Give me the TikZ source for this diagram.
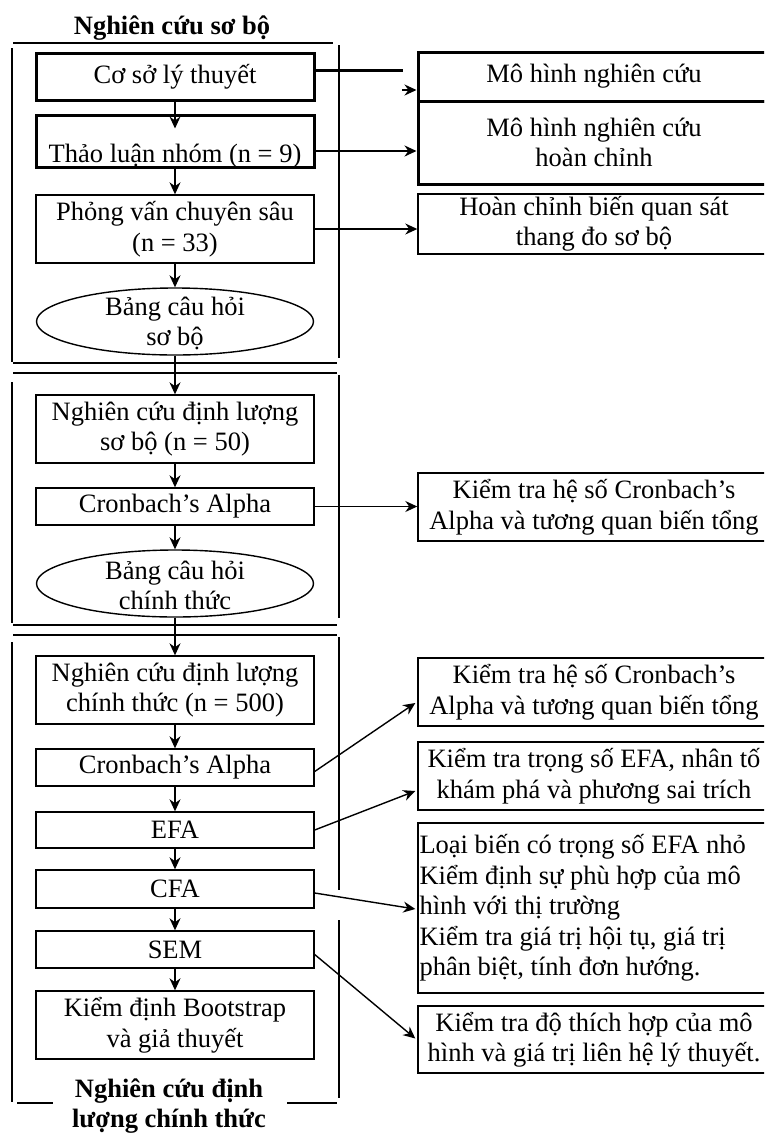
\documentclass[tikz,border=0pt]{standalone}
\usepackage{fontspec}
\setmainfont{Liberation Serif}
\usetikzlibrary{arrows.meta,shapes.geometric}
\tikzset{
  box/.style={draw, line width=1.4pt, minimum width=278pt, inner sep=0pt, align=center},
  thickbox/.style={box, line width=3pt},
  oval/.style={draw, ellipse, line width=1.4pt, minimum width=277pt, minimum height=67pt, inner sep=0pt},
  rbox/.style={draw, line width=1.4pt, minimum width=352pt, inner sep=0pt, align=center},
  arr/.style={-{Stealth[length=12pt,width=11pt]}, line width=1.4pt},
  frameline/.style={line width=1.4pt},
  ttl/.style={align=center, inner sep=0pt},
  plain/.style={align=center, inner sep=0pt}
}
\begin{document}
\begin{tikzpicture}[x=1pt,y=-1pt,font=\fontsize{26.5}{30.5}\selectfont]
\useasboundingbox (0,0) rectangle (764,1136);
\clip (0,0) rectangle (764,1136);

% titles
\node[ttl] (t1) at (172,28) {\textbf{Nghiên cứu sơ bộ}};
\node[ttl] (t3) at (169,1106) {\textbf{Nghiên cứu định}\\\textbf{lượng chính thức}};

% frames section 1
\draw[frameline] (13,43) -- (333,43);
\draw[frameline] (12,48) -- (12,362);
\draw[frameline] (339,45) -- (339,358);
\draw[frameline] (13,363) -- (337,363);
\draw[frameline] (13,373) -- (337,373);
% section 2
\draw[frameline] (12,382) -- (12,623);
\draw[frameline] (339,375) -- (339,618);
\draw[frameline] (13,625) -- (337,625);
\draw[frameline] (13,635) -- (337,635);
% section 3
\draw[frameline] (12,642) -- (12,1102);
\draw[frameline] (339,637) -- (339,890);
\draw[frameline] (339,920) -- (339,1098);
\draw[frameline] (17,1103) -- (53,1103);
\draw[frameline] (287,1103) -- (337,1103);

% left column
\node[thickbox, minimum height=47pt] (c1) at (175,76.5) {Cơ sở lý thuyết};
\node[thickbox, minimum height=52pt] (c2) at (175,141) {\raisebox{-21pt}[0pt][0pt]{Thảo luận nhóm (n = 9)}};
\node[box, minimum height=68pt] (c3) at (175,229) {Phỏng vấn chuyên sâu\\(n = 33)};
\node[oval] (e1) at (175,321.5) {};
\node[plain] (e1t) at ([yshift=-2pt]e1.center) {Bảng câu hỏi\\sơ bộ};

\node[box, minimum height=68pt] (d1) at (175,429) {Nghiên cứu định lượng\\sơ bộ (n = 50)};
\node[box, minimum height=37pt] (d2) at (175,506.5) {Cronbach’s Alpha};
\node[oval] (e2) at (175,583.5) {};
\node[plain] (e2t) at ([yshift=-2pt]e2.center) {Bảng câu hỏi\\chính thức};

\node[box, minimum height=68pt] (f1) at (175,690) {Nghiên cứu định lượng\\chính thức (n = 500)};
\node[box, minimum height=37pt] (f2) at (175,767.5) {Cronbach’s Alpha};
\node[box, minimum height=36pt] (f3) at (175,830) {EFA};
\node[box, minimum height=38pt] (f4) at (175,889) {CFA};
\node[box, minimum height=37pt] (f5) at (175,949.5) {SEM};
\node[box, minimum height=68pt] (f6) at (175,1025) {Kiểm định Bootstrap\\và giả thuyết};

% right column
\node[rbox, line width=3pt, minimum height=49pt] (m1) at (594,76.5) {Mô hình nghiên cứu};
\node[rbox, line width=3pt, minimum height=83pt] (m2) at (594,142.5) {Mô hình nghiên cứu\\hoàn chỉnh};
\node[rbox, minimum height=60pt] (m3) at (594,224) {Hoàn chỉnh biến quan sát\\thang đo sơ bộ};
\node[rbox, minimum height=68pt] (r2) at (594,507) {Kiểm tra hệ số Cronbach’s\\Alpha và tương quan biến tổng};
\node[rbox, minimum height=68pt] (rA) at (594,692) {Kiểm tra hệ số Cronbach’s\\Alpha và tương quan biến tổng};
\node[rbox, minimum height=68pt] (rB) at (594,776) {Kiểm tra trọng số EFA, nhân tố\\khám phá và phương sai trích};
\node[rbox, minimum height=170pt] (rC) at (594,908) {};
\node[anchor=west, align=left, inner sep=0pt] (rCt) at ([xshift=2pt]rC.west) {Loại biến có trọng số EFA nhỏ\\Kiểm định sự phù hợp của mô\\hình với thị trường\\Kiểm tra giá trị hội tụ, giá trị\\phân biệt, tính đơn hướng.};
\node[rbox, minimum height=67pt] (rD) at (594,1039.5) {Kiểm tra độ thích hợp của mô\\hình và giá trị liên hệ lý thuyết.};

% vertical arrows
\draw[arr] (c1.south) -- ([yshift=-15pt]c2.north);
\draw[arr] (c2.south) -- (c3.north);
\draw[arr] (c3.south) -- (e1.north);
\draw[arr] (e1.south) -- (d1.north);
\draw[arr] (d1.south) -- (d2.north);
\draw[arr] (d2.south) -- (e2.north);
\draw[arr] (e2.south) -- (f1.north);
\draw[arr] (f1.south) -- (f2.north);
\draw[arr] (f2.south) -- (f3.north);
\draw[arr] (f3.south) -- (f4.north);
\draw[arr] (f4.south) -- (f5.north);
\draw[arr] (f5.south) -- (f6.north);

% horizontal connectors
\coordinate (k1) at (403,70);
\coordinate (k2) at (402,90);
\coordinate (k3) at (0,151);
\draw[line width=3pt] (c1.east |- k1) -- (k1);
\draw[arr] (k2) -- (m1.west |- k2);
\draw[arr, line width=2.6pt] (c2.east |- k3) -- (m2.west |- k3);
\draw[arr] (c3.east) -- (m3.west |- c3.east);
\draw[arr] (d2.east) -- (r2.west |- d2.east);
\draw[arr] ([yshift=-4pt]f2.east) -- ([shift={(-2,11)}]rA.west);
\draw[arr] (f3.east) -- ([shift={(-2,15)}]rB.west);
\draw[arr] ([yshift=-4pt]f4.east) -- ([shift={(-2,1)}]rC.west);
\draw[arr] ([yshift=-5pt]f5.east) -- ([shift={(-2,-1)}]rD.west);
\end{tikzpicture}
\end{document}
